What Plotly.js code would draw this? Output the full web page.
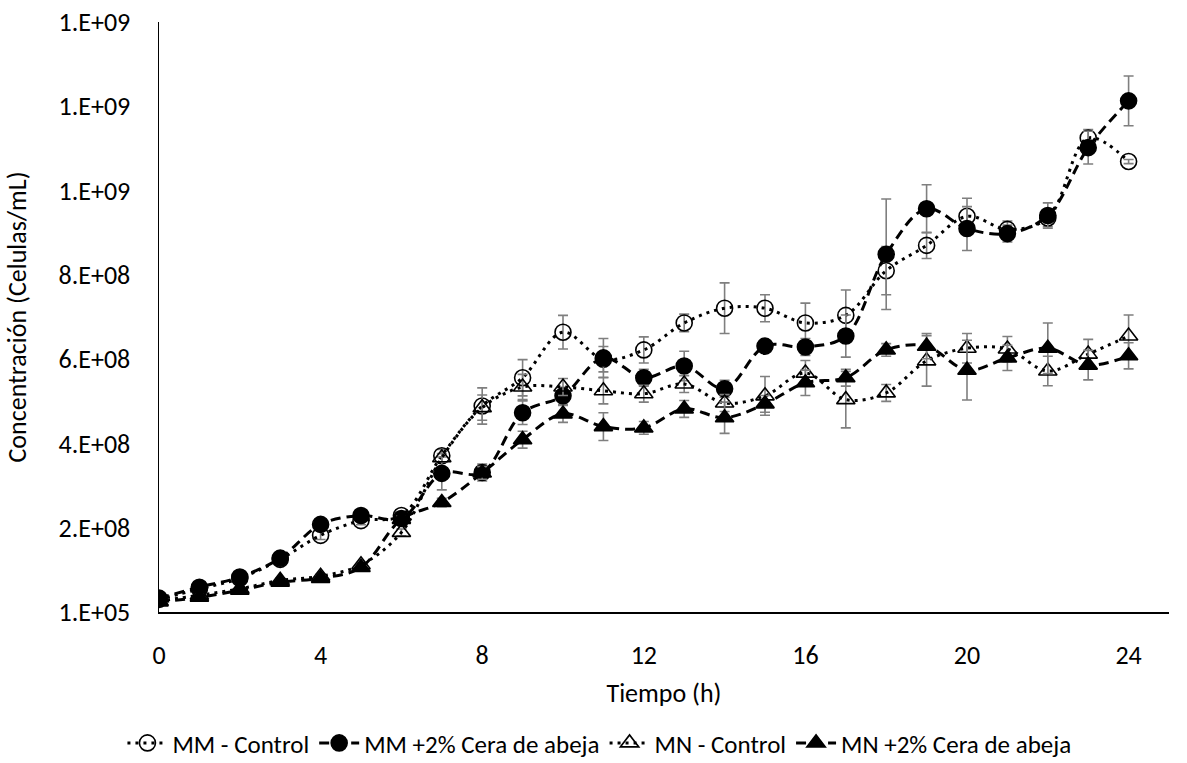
<!DOCTYPE html>
<html>
<head>
<meta charset="utf-8">
<script src="https://cdn.plot.ly/plotly-3.0.1.min.js"></script>
<style>html,body{margin:0;padding:0;background:#fff;}#chart{width:1187px;height:763px;}</style>
</head>
<body>
<div id="chart"></div>
<script>
// Time (h)
const tiempo = [0,1,2,3,4,5,6,7,8,9,10,11,12,13,14,15,16,17,18,19,20,21,22,23,24];

// MM - Control (open circles)
const mmControl = [3.0e7,5.5e7,8.0e7,1.25e8,1.82e8,2.17e8,2.29e8,3.71e8,4.89e8,5.56e8,6.64e8,6.0e8,6.22e8,6.86e8,7.21e8,7.21e8,6.86e8,7.04e8,8.10e8,8.70e8,9.39e8,9.08e8,9.35e8,1.125e9,1.069e9];
const mmControlErr = [0.05e8,0.05e8,0.05e8,0.1e8,0.1e8,0.1e8,0.08e8,0.15e8,0.43e8,0.43e8,0.4e8,0.3e8,0.31e8,0.21e8,0.6e8,0.32e8,0.47e8,0.6e8,0.57e8,0.31e8,0.43e8,0.2e8,0.2e8,0.2e8,0.05e8];

// MM +2% Cera de abeja (filled circles)
const mmCera = [3.3e7,5.9e7,8.3e7,1.28e8,2.08e8,2.29e8,2.22e8,3.29e8,3.31e8,4.73e8,5.13e8,6.03e8,5.56e8,5.84e8,5.30e8,6.31e8,6.29e8,6.55e8,8.49e8,9.57e8,9.10e8,8.98e8,9.41e8,1.102e9,1.213e9];
const mmCeraErr = [0.05e8,0.05e8,0.05e8,0.1e8,0.1e8,0.1e8,0.05e8,0.39e8,0.2e8,0.28e8,0.2e8,0.46e8,0.2e8,0.35e8,0.2e8,0.1e8,0.2e8,0.5e8,1.31e8,0.57e8,0.52e8,0.2e8,0.3e8,0.39e8,0.59e8];

// MN - Control (open triangles)
const mnControl = [2.6e7,4.0e7,5.5e7,7.5e7,8.5e7,1.12e8,1.89e8,3.66e8,4.85e8,5.34e8,5.34e8,5.25e8,5.18e8,5.41e8,4.96e8,5.13e8,5.67e8,5.04e8,5.20e8,5.96e8,6.26e8,6.24e8,5.72e8,6.12e8,6.55e8];
const mnControlErr = [0.03e8,0.03e8,0.03e8,0.05e8,0.05e8,0.05e8,0.08e8,0.1e8,0.3e8,0.3e8,0.2e8,0.31e8,0.2e8,0.2e8,0.2e8,0.46e8,0.3e8,0.67e8,0.2e8,0.6e8,0.35e8,0.3e8,0.35e8,0.35e8,0.5e8];

// MN +2% Cera de abeja (filled triangles)
const mnCera = [2.4e7,3.5e7,5.2e7,7.1e7,8.0e7,1.06e8,2.2e8,2.6e8,3.3e8,4.09e8,4.70e8,4.40e8,4.37e8,4.82e8,4.61e8,4.94e8,5.44e8,5.56e8,6.22e8,6.31e8,5.74e8,6.03e8,6.26e8,5.86e8,6.08e8];
const mnCeraErr = [0.03e8,0.03e8,0.03e8,0.05e8,0.05e8,0.05e8,0.08e8,0.1e8,0.15e8,0.2e8,0.2e8,0.33e8,0.15e8,0.2e8,0.37e8,0.2e8,0.3e8,0.2e8,0.15e8,0.3e8,0.71e8,0.3e8,0.6e8,0.35e8,0.31e8];

const seriesNames = ["MM - Control","MM +2% Cera de abeja","MN - Control","MN +2% Cera de abeja"];

// Y tick labels (Excel 0.E+00 format)
const yTickVals = [1e5, 2.001e8, 4.001e8, 6.001e8, 8.001e8, 1.0001e9, 1.2001e9, 1.4001e9];
const yTickText = ["1.E+05","2.E+08","4.E+08","6.E+08","8.E+08","1.E+09","1.E+09","1.E+09"];
const xTickVals = [0,4,8,12,16,20,24];

const FONT = "Carlito, Lato, 'Open Sans', sans-serif";
const FS = 26;
const DOT = "3px,5px";
const DASH = "10px,6px";
const errStyle = {type:'data', visible:true, color:'#7f7f7f', thickness:1.6, width:5};

function trace(name, y, err, symbol, dash){
  return {
    type:'scatter', mode:'lines+markers', name:name, x:tiempo, y:y,
    line:{color:'#000', width:3, dash:dash, shape:'spline', smoothing:1},
    marker:{symbol:symbol, size:16, color:'#000', line:{color:'#000', width:1.6}},
    error_y:Object.assign({array:err}, errStyle)
  };
}

const data = [
  trace(seriesNames[0], mmControl, mmControlErr, 'circle-open', DOT),
  trace(seriesNames[1], mmCera, mmCeraErr, 'circle', DASH),
  trace(seriesNames[2], mnControl, mnControlErr, 'triangle-up-open', DOT),
  trace(seriesNames[3], mnCera, mnCeraErr, 'triangle-up', DASH)
];

const layout = {
  width:1187, height:763,
  margin:{l:159, r:18, t:22, b:151},
  paper_bgcolor:'#fff', plot_bgcolor:'#fff',
  font:{family:FONT, size:FS, color:'#000'},
  showlegend:true,
  legend:{orientation:'h', xref:'container', yref:'container', x:0.505, y:0.026, xanchor:'center', yanchor:'middle',
          font:{family:FONT, size:25, color:'#000'}, itemwidth:40, tracegroupgap:0},
  xaxis:{
    range:[0,25], tickmode:'array', tickvals:xTickVals, ticks:'', showgrid:false, zeroline:false,
    showline:true, linecolor:'#000', linewidth:1.5, tickfont:{size:FS}, ticklen:0, ticklabelstandoff:19,
    title:{text:'Tiempo (h)', font:{size:FS}, standoff:14}
  },
  yaxis:{
    range:[1e5, 1.4001e9], tickmode:'array', tickvals:yTickVals, ticktext:yTickText, ticks:'',
    showgrid:false, zeroline:false, showline:true, linecolor:'#000', linewidth:1.5, tickfont:{size:FS},
    ticklabelstandoff:22,
    title:{text:'Concentración (Celulas/mL)', font:{size:FS}, standoff:24}
  }
};

Plotly.newPlot('chart', data, layout, {displayModeBar:false, staticPlot:true});
</script>
</body>
</html>
